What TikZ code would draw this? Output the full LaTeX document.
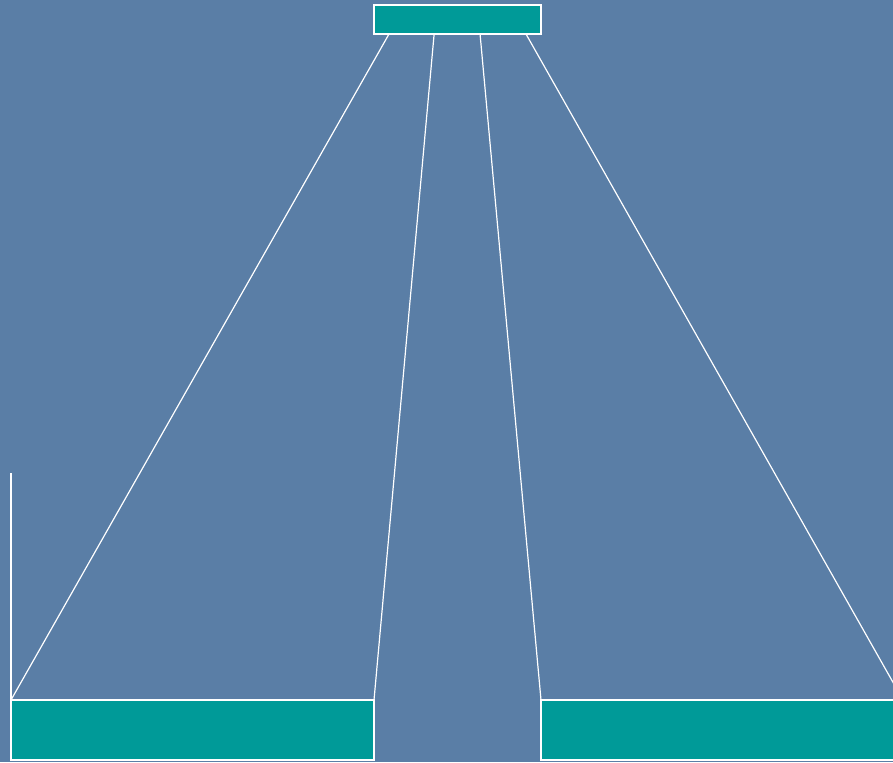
\documentclass[tikz,border=0pt]{standalone}
\usepackage{tikz}
\usetikzlibrary{calc}
\definecolor{slate}{HTML}{5A7EA6}
\definecolor{tealbox}{HTML}{009A98}
\tikzset{
  panel/.style={draw=white,line width=1.2pt,fill=tealbox,inner sep=0pt,outer sep=0pt},
  spoke/.style={draw=white,line width=1.2pt},
}
\begin{document}
\begin{tikzpicture}[x=1pt,y=-1pt]
\useasboundingbox (0,0) rectangle (893,762);
\clip (0,0) rectangle (893,762);
\fill[slate] (0,0) rectangle (893,762);
\node[panel,minimum width=167pt,minimum height=29pt] (hub) at (457.5,19.5) {};
\node[panel,minimum width=363pt,minimum height=60pt] (left) at (192.5,730) {};
\node[panel,minimum width=362pt,minimum height=60pt] (right) at (722,730) {};
\coordinate (tick) at (11,473);
\draw[spoke] ($(hub.south west)!0.09!(hub.south east)$) -- (left.north west);
\draw[spoke] ($(hub.south west)!0.36!(hub.south east)$) -- (left.north east);
\draw[spoke] ($(hub.south west)!0.635!(hub.south east)$) -- (right.north west);
\draw[spoke] ($(hub.south west)!0.91!(hub.south east)$) -- (right.north east);
\draw[spoke] (tick) -- (left.north west);
\end{tikzpicture}
\end{document}
